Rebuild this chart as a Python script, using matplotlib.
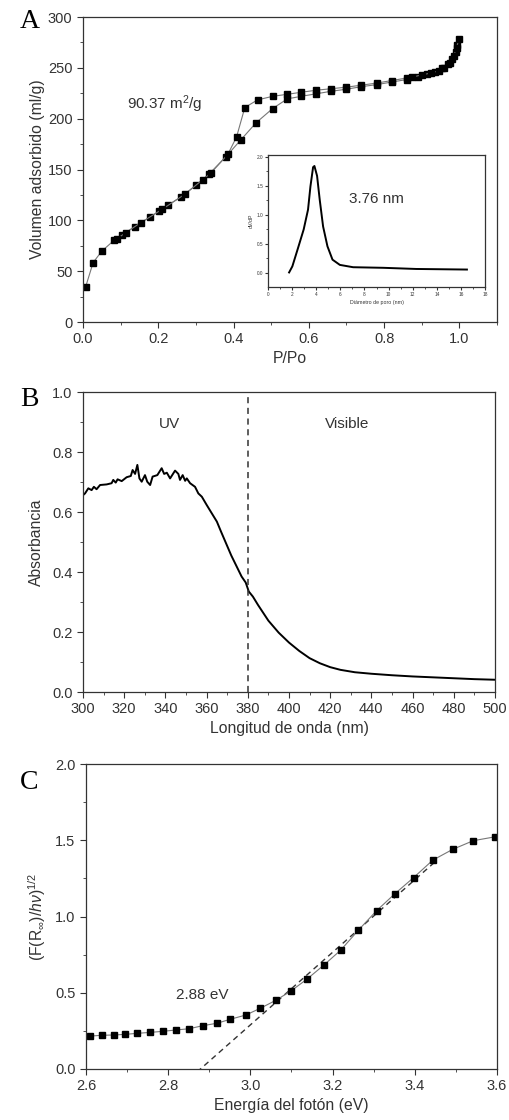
import matplotlib
matplotlib.use("Agg")
import matplotlib.pyplot as plt
from matplotlib.ticker import AutoMinorLocator, MultipleLocator

# ---------------------------------------------
# Datos
# ---------------------------------------------

# A : isoterma de adsorcion / desorcion
ads_p = [0.007, 0.027, 0.05, 0.083, 0.105, 0.137, 0.177, 0.202, 0.226, 0.26, 0.30, 0.335,
         0.38, 0.419, 0.46, 0.504, 0.543, 0.58, 0.62, 0.66, 0.70, 0.74, 0.78, 0.82, 0.86,
         0.89, 0.915, 0.935, 0.955, 0.97, 0.98, 0.99, 0.995]
ads_v = [34.5, 58.5, 69.7, 80.5, 86, 93.6, 103, 109, 115, 123, 134.4, 145.6,
         162.7, 179, 196, 210, 219.5, 222, 224.5, 227, 229, 231.5, 233.5, 236, 238.5,
         241, 243.5, 246, 250, 254, 259, 266, 272]
des_p = [0.998, 0.993, 0.985, 0.975, 0.96, 0.945, 0.925, 0.90, 0.875, 0.86, 0.82, 0.78,
         0.74, 0.70, 0.66, 0.62, 0.58, 0.543, 0.504, 0.464, 0.43, 0.408, 0.385, 0.34,
         0.318, 0.272, 0.211, 0.153, 0.113, 0.09]
des_v = [278, 270, 262, 255, 250, 247, 245, 243, 241, 240, 237.5, 235,
         233, 231, 229.5, 228, 226, 224, 222, 218.5, 211, 182, 165, 146.5,
         140, 126, 111, 97.6, 87.7, 81.8]

# inserto : distribucion de tamano de poro
poro_d = [1.75, 2.02, 2.49, 2.96, 3.32, 3.52, 3.74, 3.85, 4.07, 4.29, 4.57, 4.93, 5.35,
          5.96, 7.06, 9.56, 12.3, 16.5]
poro_dv = [0.01, 0.115, 0.43, 0.75, 1.09, 1.49, 1.82, 1.84, 1.67, 1.26, 0.80, 0.46, 0.23,
           0.14, 0.10, 0.09, 0.07, 0.06]

# B : espectro de absorbancia
onda = [300, 301, 302.6, 304.2, 305.3, 306.6, 308.3, 311.5, 313.9, 314.7, 315.9, 316.8,
        318.8, 321.2, 323.2, 324.1, 325.3, 326.4, 327.4, 328.5, 330.1, 331.2, 332.6,
        333.8, 336.1, 338.2, 339.4, 340.7, 342.3, 344.7, 346.3, 347.1, 348.4, 349.6,
        350.4, 352, 354.4, 356, 357.7, 360.1, 362.5, 365, 367, 369.5, 372, 374.5,
        377, 379, 380.5, 382.5, 385, 390, 395, 400, 405, 410, 415, 420, 425,
        432, 440, 450, 460, 470, 480, 490, 500]
absorb = [0.656, 0.662, 0.679, 0.673, 0.684, 0.676, 0.69, 0.692, 0.696, 0.707, 0.698, 0.709,
          0.703, 0.716, 0.72, 0.74, 0.727, 0.757, 0.712, 0.701, 0.723, 0.701, 0.69,
          0.718, 0.723, 0.746, 0.727, 0.731, 0.712, 0.738, 0.727, 0.707, 0.723, 0.704,
          0.712, 0.696, 0.684, 0.662, 0.651, 0.623, 0.596, 0.568, 0.535, 0.495, 0.455, 0.42,
          0.385, 0.365, 0.335, 0.318, 0.29, 0.238, 0.198, 0.165, 0.137, 0.113, 0.096, 0.083, 0.074,
          0.066, 0.061, 0.056, 0.052, 0.049, 0.046, 0.043, 0.041]
limite_uv = 380

# C : grafica de Tauc
energia = [2.61, 2.638, 2.667, 2.695, 2.725, 2.756, 2.787, 2.819, 2.851, 2.884, 2.919,
           2.951, 2.989, 3.024, 3.063, 3.10, 3.138, 3.179, 3.22, 3.263, 3.307, 3.351,
           3.397, 3.444, 3.492, 3.542, 3.596]
tauc = [0.216, 0.221, 0.223, 0.227, 0.234, 0.24, 0.247, 0.256, 0.264, 0.284, 0.30,
        0.326, 0.354, 0.398, 0.452, 0.514, 0.59, 0.682, 0.78, 0.911, 1.038, 1.148,
        1.255, 1.37, 1.44, 1.497, 1.523]
ajuste_x = [2.87, 3.45]
ajuste_y = [-0.02, 1.36]

# ---------------------------------------------
# Estilo
# ---------------------------------------------
plt.rcParams['font.family'] = ['Liberation Sans', 'DejaVu Sans']
plt.rcParams['mathtext.fontset'] = 'custom'
plt.rcParams['mathtext.rm'] = 'Liberation Sans'
plt.rcParams['mathtext.it'] = 'Liberation Sans:italic'
gris = '#333333'
tam_eje = 11.3


def estilo(ax, tam=10.5):
    for s in ax.spines.values():
        s.set_color(gris)
        s.set_linewidth(0.9)
    ax.xaxis.set_minor_locator(AutoMinorLocator(2))
    ax.yaxis.set_minor_locator(AutoMinorLocator(2))
    ax.tick_params(which='both', direction='out', colors=gris, labelsize=tam,
                   top=False, right=False)
    ax.tick_params(which='major', length=4)
    ax.tick_params(which='minor', length=2.5)


fig = plt.figure(figsize=(5.1, 11.2), dpi=100)

# ---------------------------------------------
# Panel A
# ---------------------------------------------
axA = fig.add_axes([0.1627, 0.7125, 0.8118, 0.2723])
axA.plot(ads_p, ads_v, color='#777777', lw=0.8, marker='s', ms=4.5,
         mfc='black', mec='black')
axA.plot(des_p, des_v, color='#777777', lw=0.8, marker='s', ms=4.5,
         mfc='black', mec='black')
axA.set_xlim(0, 1.1)
axA.set_ylim(0, 300)
axA.xaxis.set_major_locator(MultipleLocator(0.2))
axA.yaxis.set_major_locator(MultipleLocator(50))
estilo(axA)
axA.set_xlabel("P/Po", fontsize=tam_eje, color=gris, labelpad=3)
axA.set_ylabel("Volumen adsorbido (ml/g)", fontsize=tam_eje, color=gris, labelpad=2)
axA.text(0.217, 214.6, r"90.37 m$^2$/g", fontsize=11, color=gris,
         ha='center', va='center')
fig.text(0.058, 0.981, "A", family='Liberation Serif', fontsize=20, ha='center', va='center')

# inserto
axI = fig.add_axes([0.5255, 0.74375, 0.4255, 0.1179])
axI.plot(poro_d, poro_dv, color='black', lw=1.4)
axI.set_xlim(0, 18)
axI.set_ylim(-0.24, 2.03)
axI.xaxis.set_major_locator(MultipleLocator(2))
axI.yaxis.set_major_locator(MultipleLocator(0.5))
estilo(axI, tam=3.4)
axI.tick_params(which='major', length=2, pad=1.5)
axI.tick_params(which='minor', length=1.2)
axI.set_xlabel("Diámetro de poro (nm)", fontsize=3.8, color=gris, labelpad=2)
axI.set_ylabel("dV/dP", fontsize=3.8, color=gris, labelpad=2)
axI.text(9.0, 1.28, "3.76 nm", fontsize=11, color=gris, ha='center', va='center')

# ---------------------------------------------
# Panel B
# ---------------------------------------------
axB = fig.add_axes([0.1627, 0.3821, 0.8078, 0.2679])
axB.plot(onda, absorb, color='black', lw=1.4)
axB.axvline(limite_uv, color=gris, lw=1.1, ls=(0, (4, 3)))
axB.set_xlim(300, 500)
axB.set_ylim(0, 1.0)
axB.xaxis.set_major_locator(MultipleLocator(20))
axB.yaxis.set_major_locator(MultipleLocator(0.2))
estilo(axB)
axB.set_xlabel("Longitud de onda (nm)", fontsize=tam_eje, color=gris, labelpad=3)
axB.set_ylabel("Absorbancia", fontsize=tam_eje, color=gris, labelpad=6)
axB.text(342, 0.895, "UV", fontsize=11, color=gris, ha='center', va='center')
axB.text(428, 0.895, "Visible", fontsize=11, color=gris, ha='center', va='center')
fig.text(0.058, 0.643, "B", family='Liberation Serif', fontsize=20, ha='center', va='center')

# ---------------------------------------------
# Panel C
# ---------------------------------------------
axC = fig.add_axes([0.1686, 0.04554, 0.8059, 0.2723])
axC.plot(ajuste_x, ajuste_y, color=gris, lw=1.0, ls=(0, (4, 3)))
axC.plot(energia, tauc, color='#777777', lw=0.8, marker='s', ms=4.5,
         mfc='black', mec='black')
axC.set_xlim(2.6, 3.6)
axC.set_ylim(0, 2.0)
axC.xaxis.set_major_locator(MultipleLocator(0.2))
axC.yaxis.set_major_locator(MultipleLocator(0.5))
estilo(axC)
axC.set_xlabel("Energía del fotón (eV)", fontsize=tam_eje, color=gris, labelpad=3)
axC.set_ylabel(r"(F(R$_\infty$)/$h\nu$)$^{1/2}$", fontsize=tam_eje, color=gris, labelpad=5)
axC.text(2.882, 0.485, "2.88 eV", fontsize=11, color=gris, ha='center', va='center')
fig.text(0.058, 0.301, "C", family='Liberation Serif', fontsize=20, ha='center', va='center')

fig.savefig("out.png", dpi=100)
